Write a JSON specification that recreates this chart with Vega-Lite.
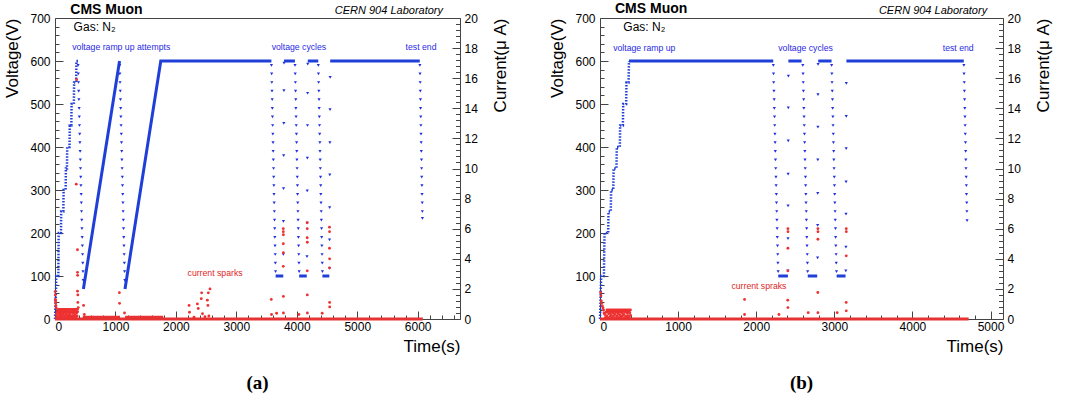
{
  "$schema": "https://vega.github.io/schema/vega-lite/v6.json",
  "background": "white",
  "padding": {"left": 3, "top": 1, "right": 5, "bottom": 5},
  "spacing": 39,
  "config": {
    "view": {"stroke": "#444", "strokeWidth": 1},
    "font": "Liberation Sans",
    "axis": {"labelFont": "Liberation Sans", "titleFont": "Liberation Sans", "labelFontSize": 12, "titleFontSize": 17, "titleFontWeight": "normal", "labelColor": "#000", "titleColor": "#000", "domain": false, "grid": false, "tickColor": "#444", "tickWidth": 1}
  },
  "datasets": {
    "a_vl": [
      {"s":1,"t":470,"v":70},{"s":1,"t":1068,"v":600},
      {"s":2,"t":1158,"v":70},{"s":2,"t":1750,"v":600},{"s":2,"t":3580,"v":600},
      {"s":3,"t":3650,"v":100},{"s":3,"t":3776,"v":100},
      {"s":4,"t":3790,"v":600},{"s":4,"t":3969,"v":600},
      {"s":5,"t":4039,"v":100},{"s":5,"t":4165,"v":100},
      {"s":6,"t":4182,"v":600},{"s":6,"t":4355,"v":600},
      {"s":7,"t":4424,"v":100},{"s":7,"t":4538,"v":100},
      {"s":8,"t":4552,"v":600},{"s":8,"t":6035,"v":600}
    ],
    "a_vs": [
      {"t":0,"v":0},{"t":17,"v":70},{"t":20,"v":100},{"t":55,"v":100},{"t":60,"v":190},{"t":62,"v":200},{"t":99,"v":200},{"t":102,"v":250},{"t":138,"v":250},{"t":142,"v":300},{"t":176,"v":300},{"t":180,"v":350},{"t":198,"v":350},{"t":202,"v":400},{"t":240,"v":400},{"t":244,"v":450},{"t":270,"v":450},{"t":274,"v":500},{"t":312,"v":500},{"t":316,"v":550},{"t":350,"v":550},{"t":354,"v":600},{"t":380,"v":600}
    ],
    "a_vp": [
      {"t":382,"v":590},{"t":385,"v":570},{"t":388,"v":550},{"t":392,"v":530},{"t":395,"v":510},{"t":399,"v":490},{"t":402,"v":470},{"t":405,"v":450},{"t":409,"v":430},{"t":412,"v":410},{"t":416,"v":390},{"t":419,"v":370},{"t":422,"v":350},{"t":426,"v":330},{"t":429,"v":310},{"t":433,"v":290},{"t":436,"v":270},{"t":439,"v":250},{"t":443,"v":230},{"t":446,"v":210},{"t":450,"v":190},{"t":453,"v":170},{"t":456,"v":150},{"t":460,"v":130},{"t":463,"v":110},{"t":467,"v":90},
      {"t":1070,"v":590},{"t":1073,"v":570},{"t":1076,"v":550},{"t":1080,"v":530},{"t":1083,"v":510},{"t":1087,"v":490},{"t":1090,"v":470},{"t":1093,"v":450},{"t":1097,"v":430},{"t":1100,"v":410},{"t":1104,"v":390},{"t":1107,"v":370},{"t":1110,"v":350},{"t":1114,"v":330},{"t":1117,"v":310},{"t":1121,"v":290},{"t":1124,"v":270},{"t":1127,"v":250},{"t":1131,"v":230},{"t":1134,"v":210},{"t":1138,"v":190},{"t":1141,"v":170},{"t":1144,"v":150},{"t":1148,"v":130},{"t":1151,"v":110},{"t":1155,"v":90},
      {"t":3581,"v":590},{"t":3584,"v":570},{"t":3587,"v":550},{"t":3590,"v":530},{"t":3593,"v":510},{"t":3595,"v":490},{"t":3598,"v":470},{"t":3601,"v":450},{"t":3604,"v":430},{"t":3607,"v":410},{"t":3609,"v":390},{"t":3612,"v":370},{"t":3615,"v":350},{"t":3618,"v":330},{"t":3621,"v":310},{"t":3623,"v":290},{"t":3626,"v":270},{"t":3629,"v":250},{"t":3632,"v":230},{"t":3635,"v":210},{"t":3637,"v":190},{"t":3640,"v":170},{"t":3643,"v":150},{"t":3646,"v":130},{"t":3649,"v":110},
      {"t":3777,"v":150},{"t":3779,"v":227},{"t":3781,"v":303},{"t":3783,"v":380},{"t":3785,"v":455},{"t":3787,"v":531},{"t":3789,"v":595},
      {"t":3971,"v":590},{"t":3974,"v":570},{"t":3977,"v":550},{"t":3980,"v":530},{"t":3983,"v":510},{"t":3985,"v":490},{"t":3988,"v":470},{"t":3991,"v":450},{"t":3994,"v":430},{"t":3997,"v":410},{"t":3999,"v":390},{"t":4002,"v":370},{"t":4005,"v":350},{"t":4008,"v":330},{"t":4011,"v":310},{"t":4013,"v":290},{"t":4016,"v":270},{"t":4019,"v":250},{"t":4022,"v":230},{"t":4025,"v":210},{"t":4027,"v":190},{"t":4030,"v":170},{"t":4033,"v":150},{"t":4036,"v":130},{"t":4039,"v":110},
      {"t":4169,"v":145},{"t":4171,"v":223},{"t":4173,"v":298},{"t":4175,"v":374},{"t":4177,"v":450},{"t":4179,"v":525},{"t":4181,"v":593},
      {"t":4356,"v":590},{"t":4359,"v":570},{"t":4362,"v":550},{"t":4365,"v":530},{"t":4368,"v":510},{"t":4370,"v":490},{"t":4373,"v":470},{"t":4376,"v":450},{"t":4379,"v":430},{"t":4382,"v":410},{"t":4384,"v":390},{"t":4387,"v":370},{"t":4390,"v":350},{"t":4393,"v":330},{"t":4396,"v":310},{"t":4398,"v":290},{"t":4401,"v":270},{"t":4404,"v":250},{"t":4407,"v":230},{"t":4410,"v":210},{"t":4412,"v":190},{"t":4415,"v":170},{"t":4418,"v":150},{"t":4421,"v":130},{"t":4424,"v":110},
      {"t":4540,"v":118},{"t":4542,"v":184},{"t":4544,"v":259},{"t":4546,"v":335},{"t":4548,"v":410},{"t":4550,"v":487},{"t":4552,"v":562},
      {"t":6036,"v":590},{"t":6039,"v":570},{"t":6041,"v":550},{"t":6043,"v":530},{"t":6046,"v":510},{"t":6048,"v":490},{"t":6051,"v":470},{"t":6053,"v":450},{"t":6055,"v":430},{"t":6058,"v":410},{"t":6060,"v":390},{"t":6063,"v":370},{"t":6065,"v":350},{"t":6067,"v":330},{"t":6070,"v":310},{"t":6072,"v":290},{"t":6075,"v":270},{"t":6077,"v":250},{"t":6079,"v":234}
    ],
    "a_cl": [
      {"s":1,"t":0,"c":0},{"s":1,"t":6085,"c":0},
      {"s":2,"t":460,"c":0.12},{"s":2,"t":1075,"c":0.12},
      {"s":3,"t":1160,"c":0.12},{"s":3,"t":1790,"c":0.12}
    ],
    "a_cp": [
      {"t":2,"c":1.82},{"t":4,"c":1.6},{"t":6,"c":1.3},{"t":9,"c":1.2},{"t":12,"c":1.08},{"t":15,"c":0.9},{"t":18,"c":0.75},
      {"t":22,"c":0.3},{"t":28,"c":0.1},{"t":35,"c":0.45},{"t":42,"c":0.2},{"t":48,"c":0.55},{"t":55,"c":0.08},{"t":62,"c":0.35},{"t":70,"c":0.5},{"t":76,"c":0.15},{"t":84,"c":0.4},{"t":90,"c":0.25},{"t":98,"c":0.55},{"t":105,"c":0.1},{"t":112,"c":0.4},{"t":120,"c":0.2},{"t":128,"c":0.5},{"t":135,"c":0.3},{"t":142,"c":0.08},{"t":150,"c":0.45},{"t":158,"c":0.2},{"t":166,"c":0.55},{"t":174,"c":0.35},{"t":182,"c":0.1},{"t":190,"c":0.45},{"t":198,"c":0.25},{"t":206,"c":0.55},{"t":214,"c":0.12},{"t":222,"c":0.4},{"t":230,"c":0.2},{"t":238,"c":0.5},{"t":246,"c":0.3},{"t":254,"c":0.08},{"t":262,"c":0.45},{"t":270,"c":0.2},{"t":278,"c":0.5},{"t":286,"c":0.12},{"t":294,"c":0.38},{"t":302,"c":0.22},{"t":310,"c":0.52},{"t":318,"c":0.1},{"t":326,"c":0.42},{"t":334,"c":0.25},{"t":342,"c":0.5},{"t":350,"c":0.15},{"t":358,"c":0.4},{"t":366,"c":0.2},{"t":374,"c":0.48},
      {"t":50,"c":0.64},{"t":70,"c":0.64},{"t":90,"c":0.64},{"t":110,"c":0.64},{"t":130,"c":0.64},{"t":150,"c":0.64},{"t":170,"c":0.64},{"t":190,"c":0.64},{"t":210,"c":0.64},{"t":230,"c":0.64},{"t":250,"c":0.64},{"t":270,"c":0.64},{"t":290,"c":0.64},{"t":310,"c":0.64},{"t":330,"c":0.64},{"t":350,"c":0.64},{"t":370,"c":0.64},
      {"t":352,"c":8.96},{"t":358,"c":15.9},{"t":372,"c":4.6},{"t":372,"c":3.1},{"t":374,"c":2.9},{"t":372,"c":1.85},{"t":378,"c":1.6},{"t":378,"c":1.1},{"t":385,"c":0.76},{"t":485,"c":0.3},{"t":473,"c":0.9},
      {"t":1065,"c":1.75},{"t":1068,"c":1.04},{"t":1150,"c":0.4},
      {"t":2218,"c":0.9},{"t":2225,"c":0.45},{"t":2300,"c":0.12},{"t":2355,"c":1.0},{"t":2370,"c":0.7},{"t":2420,"c":1.35},{"t":2426,"c":1.74},{"t":2440,"c":0.35},{"t":2480,"c":0.15},{"t":2520,"c":1.25},{"t":2530,"c":0.9},{"t":2536,"c":1.74},{"t":2545,"c":0.2},{"t":2564,"c":2.0},
      {"t":3578,"c":1.3},{"t":3582,"c":0.3},{"t":3666,"c":0.38},
      {"t":3776,"c":6.0},{"t":3777,"c":5.8},{"t":3778,"c":5.6},{"t":3777,"c":5.0},{"t":3778,"c":4.4},{"t":3776,"c":3.5},{"t":3778,"c":1.5},{"t":3779,"c":0.4},
      {"t":4035,"c":0.3},
      {"t":4172,"c":6.4},{"t":4173,"c":6.0},{"t":4172,"c":5.4},{"t":4174,"c":5.1},{"t":4173,"c":3.2},{"t":4174,"c":1.6},{"t":4175,"c":0.4},
      {"t":4420,"c":0.38},
      {"t":4541,"c":6.1},{"t":4542,"c":5.8},{"t":4541,"c":4.7},{"t":4543,"c":4.0},{"t":4542,"c":3.4},{"t":4543,"c":1.1},{"t":4544,"c":0.8}
    ],
    "a_lab": [
      {"k":"ann","t":1096,"v":632,"l":"voltage ramp up attempts","c":"#2a2ae6"},
      {"k":"ann","t":4035,"v":632,"l":"voltage cycles","c":"#2a2ae6"},
      {"k":"ann","t":6055,"v":632,"l":"test end","c":"#2a2ae6"},
      {"k":"ann","t":2648,"v":106,"l":"current sparks","c":"#e02525"},
      {"k":"gas","t":308,"v":678,"l":"Gas: N₂"},
      {"k":"cms","t":253,"v":719,"l":"CMS Muon"},
      {"k":"cern","t":6419,"v":717,"l":"CERN 904 Laboratory"}
    ],
    "b_vl": [
      {"s":1,"t":371,"v":600},{"s":1,"t":2218,"v":600},
      {"s":2,"t":2282,"v":100},{"s":2,"t":2406,"v":100},
      {"s":3,"t":2412,"v":600},{"s":3,"t":2581,"v":600},
      {"s":4,"t":2660,"v":100},{"s":4,"t":2781,"v":100},
      {"s":5,"t":2794,"v":600},{"s":5,"t":2965,"v":600},
      {"s":6,"t":3030,"v":100},{"s":6,"t":3144,"v":100},
      {"s":7,"t":3155,"v":600},{"s":7,"t":4658,"v":600}
    ],
    "b_vs": [
      {"t":0,"v":0},{"t":15,"v":100},{"t":50,"v":100},{"t":58,"v":200},{"t":105,"v":200},{"t":109,"v":250},{"t":138,"v":250},{"t":142,"v":300},{"t":170,"v":300},{"t":174,"v":350},{"t":211,"v":350},{"t":215,"v":400},{"t":254,"v":400},{"t":258,"v":450},{"t":293,"v":450},{"t":297,"v":500},{"t":335,"v":500},{"t":339,"v":550},{"t":366,"v":550},{"t":371,"v":600}
    ],
    "b_vp": [
      {"t":2219,"v":590},{"t":2222,"v":570},{"t":2224,"v":550},{"t":2227,"v":530},{"t":2230,"v":510},{"t":2232,"v":490},{"t":2235,"v":470},{"t":2237,"v":450},{"t":2240,"v":430},{"t":2242,"v":410},{"t":2245,"v":390},{"t":2247,"v":370},{"t":2250,"v":350},{"t":2253,"v":330},{"t":2255,"v":310},{"t":2258,"v":290},{"t":2260,"v":270},{"t":2263,"v":250},{"t":2265,"v":230},{"t":2268,"v":210},{"t":2270,"v":190},{"t":2273,"v":170},{"t":2276,"v":150},{"t":2278,"v":130},{"t":2281,"v":110},
      {"t":2406,"v":112},{"t":2407,"v":187},{"t":2408,"v":263},{"t":2409,"v":337},{"t":2410,"v":414},{"t":2411,"v":491},{"t":2412,"v":565},
      {"t":2597,"v":590},{"t":2600,"v":570},{"t":2602,"v":550},{"t":2605,"v":530},{"t":2608,"v":510},{"t":2610,"v":490},{"t":2613,"v":470},{"t":2615,"v":450},{"t":2618,"v":430},{"t":2620,"v":410},{"t":2623,"v":390},{"t":2625,"v":370},{"t":2628,"v":350},{"t":2631,"v":330},{"t":2633,"v":310},{"t":2636,"v":290},{"t":2638,"v":270},{"t":2641,"v":250},{"t":2643,"v":230},{"t":2646,"v":210},{"t":2648,"v":190},{"t":2651,"v":170},{"t":2654,"v":150},{"t":2656,"v":130},{"t":2659,"v":110},
      {"t":2786,"v":142},{"t":2787,"v":218},{"t":2788,"v":292},{"t":2789,"v":370},{"t":2790,"v":446},{"t":2791,"v":522},{"t":2792,"v":592},
      {"t":2966,"v":590},{"t":2969,"v":570},{"t":2971,"v":550},{"t":2974,"v":530},{"t":2977,"v":510},{"t":2979,"v":490},{"t":2982,"v":470},{"t":2984,"v":450},{"t":2987,"v":430},{"t":2989,"v":410},{"t":2992,"v":390},{"t":2994,"v":370},{"t":2997,"v":350},{"t":3000,"v":330},{"t":3002,"v":310},{"t":3005,"v":290},{"t":3007,"v":270},{"t":3010,"v":250},{"t":3012,"v":230},{"t":3015,"v":210},{"t":3017,"v":190},{"t":3020,"v":170},{"t":3023,"v":150},{"t":3025,"v":130},{"t":3028,"v":110},
      {"t":3148,"v":112},{"t":3149,"v":167},{"t":3150,"v":244},{"t":3151,"v":319},{"t":3152,"v":396},{"t":3153,"v":471},{"t":3154,"v":548},
      {"t":4659,"v":590},{"t":4661,"v":570},{"t":4664,"v":550},{"t":4666,"v":530},{"t":4668,"v":510},{"t":4671,"v":490},{"t":4673,"v":470},{"t":4675,"v":450},{"t":4677,"v":430},{"t":4680,"v":410},{"t":4682,"v":390},{"t":4684,"v":370},{"t":4686,"v":350},{"t":4689,"v":330},{"t":4691,"v":310},{"t":4693,"v":290},{"t":4696,"v":270},{"t":4698,"v":250},{"t":4700,"v":229}
    ],
    "b_cl": [
      {"s":1,"t":0,"c":0},{"s":1,"t":4720,"c":0}
    ],
    "b_cp": [
      {"t":8,"c":1.76},{"t":12,"c":1.54},{"t":17,"c":1.2},{"t":21,"c":1.04},{"t":30,"c":0.87},{"t":38,"c":0.75},{"t":45,"c":0.6},{"t":51,"c":0.4},
      {"t":62,"c":0.3},{"t":70,"c":0.1},{"t":78,"c":0.45},{"t":86,"c":0.2},{"t":94,"c":0.5},{"t":102,"c":0.08},{"t":110,"c":0.35},{"t":118,"c":0.5},{"t":126,"c":0.15},{"t":134,"c":0.4},{"t":142,"c":0.25},{"t":150,"c":0.5},{"t":158,"c":0.1},{"t":166,"c":0.4},{"t":174,"c":0.2},{"t":182,"c":0.5},{"t":190,"c":0.3},{"t":198,"c":0.08},{"t":206,"c":0.45},{"t":214,"c":0.2},{"t":222,"c":0.5},{"t":230,"c":0.35},{"t":238,"c":0.1},{"t":246,"c":0.45},{"t":254,"c":0.25},{"t":262,"c":0.5},{"t":270,"c":0.12},{"t":278,"c":0.4},{"t":286,"c":0.2},{"t":294,"c":0.5},{"t":302,"c":0.3},{"t":310,"c":0.08},{"t":318,"c":0.45},{"t":326,"c":0.2},{"t":334,"c":0.5},{"t":342,"c":0.12},{"t":350,"c":0.38},{"t":358,"c":0.22},{"t":366,"c":0.5},{"t":374,"c":0.1},{"t":382,"c":0.42},{"t":390,"c":0.25},
      {"t":90,"c":0.6},{"t":110,"c":0.6},{"t":130,"c":0.6},{"t":150,"c":0.6},{"t":170,"c":0.6},{"t":190,"c":0.6},{"t":210,"c":0.6},{"t":230,"c":0.6},{"t":250,"c":0.6},{"t":270,"c":0.6},{"t":290,"c":0.6},{"t":310,"c":0.6},{"t":330,"c":0.6},{"t":350,"c":0.6},{"t":370,"c":0.6},{"t":390,"c":0.6},
      {"t":1851,"c":1.3},{"t":1851,"c":0.3},{"t":2291,"c":0.3},
      {"t":2406,"c":6.0},{"t":2407,"c":5.8},{"t":2406,"c":4.7},{"t":2405,"c":3.2},{"t":2404,"c":1.25},{"t":2406,"c":0.76},
      {"t":2666,"c":0.42},
      {"t":2790,"c":6.0},{"t":2791,"c":5.8},{"t":2790,"c":5.3},{"t":2789,"c":1.76},{"t":2790,"c":0.42},
      {"t":3037,"c":0.42},
      {"t":3153,"c":6.0},{"t":3154,"c":5.8},{"t":3153,"c":4.2},{"t":3152,"c":1.1},{"t":3153,"c":0.54}
    ],
    "b_lab": [
      {"k":"ann","t":567,"v":631,"l":"voltage ramp up","c":"#2a2ae6"},
      {"k":"ann","t":2632,"v":631,"l":"voltage cycles","c":"#2a2ae6"},
      {"k":"ann","t":4586,"v":631,"l":"test end","c":"#2a2ae6"},
      {"k":"ann","t":2035,"v":76,"l":"current spraks","c":"#e02525"},
      {"k":"gas","t":299,"v":680,"l":"Gas: N₂"},
      {"k":"cms","t":192,"v":720,"l":"CMS Muon"},
      {"k":"cern","t":4957,"v":717,"l":"CERN 904 Laboratory"}
    ]
  },
  "hconcat": [
    {
      "width": 405, "height": 301,
      "title": {"text": "(a)", "orient": "bottom", "font": "Liberation Serif", "fontSize": 19, "fontWeight": "bold", "offset": 20, "color": "#000"},
      "resolve": {"scale": {"y": "independent"}, "axis": {"x": "independent"}},
      "layer": [
        {"data": {"name": "a_vl"}, "mark": {"type": "line", "color": "#1f3fd8", "strokeWidth": 3},
         "encoding": {
           "x": {"field": "t", "type": "quantitative", "scale": {"domain": [0, 6700], "nice": false, "zero": false},
                 "axis": {"orient": "bottom", "values": [0,1000,2000,3000,4000,5000,6000], "format": "d", "tickSize": -8, "labelPadding": 10, "title": "Time(s)", "titleAnchor": "end", "titlePadding": 6}},
           "y": {"field": "v", "type": "quantitative", "scale": {"domain": [0, 700], "nice": false},
                 "axis": {"orient": "left", "values": [0,100,200,300,400,500,600,700], "tickSize": -8, "labelPadding": 13, "title": "Voltage(V)", "titleAnchor": "end", "titlePadding": 8}},
           "detail": {"field": "s"}}},
        {"data": {"name": "a_vs"}, "mark": {"type": "line", "color": "#1f3fd8", "strokeWidth": 2.5, "strokeDash": [1.5, 1.5]},
         "encoding": {
           "x": {"field": "t", "type": "quantitative", "axis": null},
           "y": {"field": "v", "type": "quantitative", "scale": {"domain": [0, 700], "nice": false}, "axis": null}}},
        {"data": {"name": "a_vp"}, "mark": {"type": "point", "shape": "triangle-down", "filled": true, "size": 10, "color": "#2030dd", "opacity": 1},
         "encoding": {
           "x": {"field": "t", "type": "quantitative",
                 "axis": {"orient": "bottom", "values": [200,400,600,800,1200,1400,1600,1800,2200,2400,2600,2800,3200,3400,3600,3800,4200,4400,4600,4800,5200,5400,5600,5800,6200,6400,6600], "tickSize": -4, "labels": false, "title": null}},
           "y": {"field": "v", "type": "quantitative", "scale": {"domain": [0, 700], "nice": false},
                 "axis": {"orient": "left", "values": [20,40,60,80,120,140,160,180,220,240,260,280,320,340,360,380,420,440,460,480,520,540,560,580,620,640,660,680], "tickSize": -4, "labels": false, "title": null}}}},
        {"data": {"name": "a_cl"}, "mark": {"type": "line", "color": "#e63232", "strokeWidth": 3},
         "encoding": {
           "x": {"field": "t", "type": "quantitative", "axis": null},
           "y": {"field": "c", "type": "quantitative", "scale": {"domain": [0, 20], "nice": false},
                 "axis": {"orient": "right", "values": [0,2,4,6,8,10,12,14,16,18,20], "tickSize": -8, "labelPadding": 12, "title": "Current(μ A)", "titleAnchor": "end", "titleAngle": -90, "titleBaseline": "top", "titlePadding": 15}},
           "detail": {"field": "s"}}},
        {"data": {"name": "a_cp"}, "mark": {"type": "circle", "size": 8, "color": "#ee3030", "opacity": 1},
         "encoding": {
           "x": {"field": "t", "type": "quantitative", "axis": null},
           "y": {"field": "c", "type": "quantitative", "scale": {"domain": [0, 20], "nice": false},
                 "axis": {"orient": "right", "values": [0.4,0.8,1.2,1.6,2.4,2.8,3.2,3.6,4.4,4.8,5.2,5.6,6.4,6.8,7.2,7.6,8.4,8.8,9.2,9.6,10.4,10.8,11.2,11.6,12.4,12.8,13.2,13.6,14.4,14.8,15.2,15.6,16.4,16.8,17.2,17.6,18.4,18.8,19.2,19.6], "tickSize": -4.5, "labels": false, "title": null}}}},
        {"data": {"name": "a_lab"}, "transform": [{"filter": "datum.k == 'ann'"}], "mark": {"type": "text", "fontSize": 8.7, "align": "center", "baseline": "middle"},
         "encoding": {
           "x": {"field": "t", "type": "quantitative", "axis": null},
           "y": {"field": "v", "type": "quantitative", "scale": {"domain": [0, 700], "nice": false}, "axis": null},
           "text": {"field": "l"}, "color": {"field": "c", "type": "nominal", "scale": null}}},
        {"data": {"name": "a_lab"}, "transform": [{"filter": "datum.k == 'gas'"}], "mark": {"type": "text", "fontSize": 12, "align": "left", "baseline": "middle", "color": "#000"},
         "encoding": {
           "x": {"field": "t", "type": "quantitative", "axis": null},
           "y": {"field": "v", "type": "quantitative", "scale": {"domain": [0, 700], "nice": false}, "axis": null},
           "text": {"field": "l"}}},
        {"data": {"name": "a_lab"}, "transform": [{"filter": "datum.k == 'cms'"}], "mark": {"type": "text", "fontSize": 14, "fontWeight": "bold", "align": "left", "baseline": "middle", "color": "#000"},
         "encoding": {
           "x": {"field": "t", "type": "quantitative", "axis": null},
           "y": {"field": "v", "type": "quantitative", "scale": {"domain": [0, 700], "nice": false}, "axis": null},
           "text": {"field": "l"}}},
        {"data": {"name": "a_lab"}, "transform": [{"filter": "datum.k == 'cern'"}], "mark": {"type": "text", "fontSize": 11, "fontStyle": "italic", "align": "right", "baseline": "middle", "color": "#000"},
         "encoding": {
           "x": {"field": "t", "type": "quantitative", "axis": null},
           "y": {"field": "v", "type": "quantitative", "scale": {"domain": [0, 700], "nice": false}, "axis": null},
           "text": {"field": "l"}}}
      ]
    },
    {
      "width": 403, "height": 301,
      "title": {"text": "(b)", "orient": "bottom", "font": "Liberation Serif", "fontSize": 19, "fontWeight": "bold", "offset": 20, "color": "#000"},
      "resolve": {"scale": {"y": "independent"}, "axis": {"x": "independent"}},
      "layer": [
        {"data": {"name": "b_vl"}, "mark": {"type": "line", "color": "#1f3fd8", "strokeWidth": 3},
         "encoding": {
           "x": {"field": "t", "type": "quantitative", "scale": {"domain": [0, 5160], "nice": false, "zero": false},
                 "axis": {"orient": "bottom", "values": [0,1000,2000,3000,4000,5000], "format": "d", "tickSize": -8, "labelPadding": 10, "title": "Time(s)", "titleAnchor": "end", "titlePadding": 6}},
           "y": {"field": "v", "type": "quantitative", "scale": {"domain": [0, 700], "nice": false},
                 "axis": {"orient": "left", "values": [0,100,200,300,400,500,600,700], "tickSize": -8, "labelPadding": 13, "title": "Voltage(V)", "titleAnchor": "end", "titlePadding": 8}},
           "detail": {"field": "s"}}},
        {"data": {"name": "b_vs"}, "mark": {"type": "line", "color": "#1f3fd8", "strokeWidth": 2.5, "strokeDash": [1.5, 1.5]},
         "encoding": {
           "x": {"field": "t", "type": "quantitative", "axis": null},
           "y": {"field": "v", "type": "quantitative", "scale": {"domain": [0, 700], "nice": false}, "axis": null}}},
        {"data": {"name": "b_vp"}, "mark": {"type": "point", "shape": "triangle-down", "filled": true, "size": 10, "color": "#2030dd", "opacity": 1},
         "encoding": {
           "x": {"field": "t", "type": "quantitative",
                 "axis": {"orient": "bottom", "values": [200,400,600,800,1200,1400,1600,1800,2200,2400,2600,2800,3200,3400,3600,3800,4200,4400,4600,4800], "tickSize": -4, "labels": false, "title": null}},
           "y": {"field": "v", "type": "quantitative", "scale": {"domain": [0, 700], "nice": false},
                 "axis": {"orient": "left", "values": [20,40,60,80,120,140,160,180,220,240,260,280,320,340,360,380,420,440,460,480,520,540,560,580,620,640,660,680], "tickSize": -4, "labels": false, "title": null}}}},
        {"data": {"name": "b_cl"}, "mark": {"type": "line", "color": "#e63232", "strokeWidth": 3},
         "encoding": {
           "x": {"field": "t", "type": "quantitative", "axis": null},
           "y": {"field": "c", "type": "quantitative", "scale": {"domain": [0, 20], "nice": false},
                 "axis": {"orient": "right", "values": [0,2,4,6,8,10,12,14,16,18,20], "tickSize": -8, "labelPadding": 12, "title": "Current(μ A)", "titleAnchor": "end", "titleAngle": -90, "titleBaseline": "top", "titlePadding": 15}},
           "detail": {"field": "s"}}},
        {"data": {"name": "b_cp"}, "mark": {"type": "circle", "size": 8, "color": "#ee3030", "opacity": 1},
         "encoding": {
           "x": {"field": "t", "type": "quantitative", "axis": null},
           "y": {"field": "c", "type": "quantitative", "scale": {"domain": [0, 20], "nice": false},
                 "axis": {"orient": "right", "values": [0.4,0.8,1.2,1.6,2.4,2.8,3.2,3.6,4.4,4.8,5.2,5.6,6.4,6.8,7.2,7.6,8.4,8.8,9.2,9.6,10.4,10.8,11.2,11.6,12.4,12.8,13.2,13.6,14.4,14.8,15.2,15.6,16.4,16.8,17.2,17.6,18.4,18.8,19.2,19.6], "tickSize": -4.5, "labels": false, "title": null}}}},
        {"data": {"name": "b_lab"}, "transform": [{"filter": "datum.k == 'ann'"}], "mark": {"type": "text", "fontSize": 8.7, "align": "center", "baseline": "middle"},
         "encoding": {
           "x": {"field": "t", "type": "quantitative", "axis": null},
           "y": {"field": "v", "type": "quantitative", "scale": {"domain": [0, 700], "nice": false}, "axis": null},
           "text": {"field": "l"}, "color": {"field": "c", "type": "nominal", "scale": null}}},
        {"data": {"name": "b_lab"}, "transform": [{"filter": "datum.k == 'gas'"}], "mark": {"type": "text", "fontSize": 12, "align": "left", "baseline": "middle", "color": "#000"},
         "encoding": {
           "x": {"field": "t", "type": "quantitative", "axis": null},
           "y": {"field": "v", "type": "quantitative", "scale": {"domain": [0, 700], "nice": false}, "axis": null},
           "text": {"field": "l"}}},
        {"data": {"name": "b_lab"}, "transform": [{"filter": "datum.k == 'cms'"}], "mark": {"type": "text", "fontSize": 14, "fontWeight": "bold", "align": "left", "baseline": "middle", "color": "#000"},
         "encoding": {
           "x": {"field": "t", "type": "quantitative", "axis": null},
           "y": {"field": "v", "type": "quantitative", "scale": {"domain": [0, 700], "nice": false}, "axis": null},
           "text": {"field": "l"}}},
        {"data": {"name": "b_lab"}, "transform": [{"filter": "datum.k == 'cern'"}], "mark": {"type": "text", "fontSize": 11, "fontStyle": "italic", "align": "right", "baseline": "middle", "color": "#000"},
         "encoding": {
           "x": {"field": "t", "type": "quantitative", "axis": null},
           "y": {"field": "v", "type": "quantitative", "scale": {"domain": [0, 700], "nice": false}, "axis": null},
           "text": {"field": "l"}}}
      ]
    }
  ]
}
